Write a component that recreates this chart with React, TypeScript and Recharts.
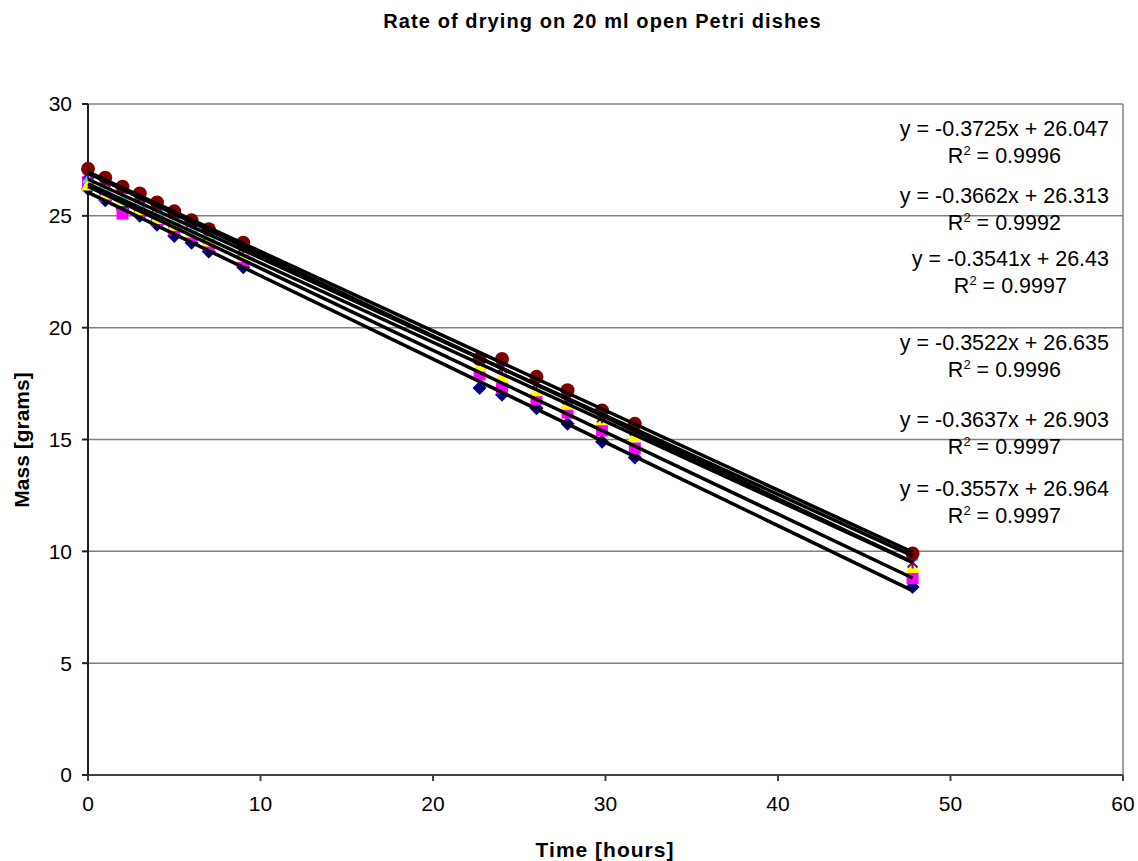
import { ScatterChart, Scatter, XAxis, YAxis, CartesianGrid, ReferenceLine } from 'recharts';

const times = [0, 1, 2, 3, 4, 5, 6, 7, 9, 22.7, 24, 26, 27.8, 29.8, 31.7, 47.8];

const dish1 = [26.2, 25.7, 25.3, 25.0, 24.6, 24.1, 23.8, 23.4, 22.7, 17.3, 17.0, 16.4, 15.7, 14.9, 14.2, 8.4];
const dish2 = [26.5, 25.9, 25.1, 25.2, 24.8, 24.4, 24.1, 23.7, 23.0, 17.9, 17.3, 16.8, 16.2, 15.4, 14.6, 8.8];
const dish3 = [26.4, 26.0, 25.7, 25.3, 24.9, 24.6, 24.3, 23.9, 23.2, 18.3, 17.8, 17.2, 16.6, 15.9, 15.2, 9.3];
const dish4 = [26.7, 26.3, 25.9, 25.6, 25.2, 24.9, 24.5, 24.2, 23.5, 18.6, 18.2, 17.5, 16.9, 16.2, 15.5, 9.8];
const dish5 = [26.9, 26.5, 26.2, 25.8, 25.4, 25.1, 24.7, 24.4, 23.6, 18.6, 18.2, 17.5, 16.8, 16.0, 15.4, 9.5];
const dish6 = [27.1, 26.7, 26.3, 26.0, 25.6, 25.2, 24.8, 24.4, 23.8, 18.6, 18.6, 17.8, 17.2, 16.3, 15.7, 9.9];

const slopes = [-0.3725, -0.3662, -0.3541, -0.3522, -0.3637, -0.3557];
const intercepts = [26.047, 26.313, 26.43, 26.635, 26.903, 26.964];
const rSquared = ['0.9996', '0.9992', '0.9997', '0.9996', '0.9997', '0.9997'];

const xTicks = [0, 10, 20, 30, 40, 50, 60];
const yTicks = [0, 5, 10, 15, 20, 25, 30];

// pixel centres of the trendline equation lines
const labelCentres = [130, 197, 260, 344, 421, 490];

const FONT = '"Liberation Sans", Arial, sans-serif';

const toPoints = (ys: number[]) => times.map((t, i) => ({ x: t, y: ys[i] }));

const Diamond = ({ cx, cy }: any) => (
  <path d={`M${cx},${cy - 7}L${cx + 7},${cy}L${cx},${cy + 7}L${cx - 7},${cy}Z`} fill="#000080" />
);
const Square = ({ cx, cy }: any) => <rect x={cx - 6} y={cy - 6} width={12} height={12} fill="#FF00FF" />;
const Triangle = ({ cx, cy }: any) => (
  <path d={`M${cx},${cy - 7}L${cx + 7},${cy + 6}L${cx - 7},${cy + 6}Z`} fill="#FFFF00" />
);
const XMark = ({ cx, cy }: any) => (
  <path d={`M${cx - 5},${cy - 5}L${cx + 5},${cy + 5}M${cx + 5},${cy - 5}L${cx - 5},${cy + 5}`} stroke="#00FFFF" strokeWidth={2} />
);
const Star = ({ cx, cy }: any) => (
  <path
    d={`M${cx - 5},${cy - 5}L${cx + 5},${cy + 5}M${cx + 5},${cy - 5}L${cx - 5},${cy + 5}M${cx},${cy - 6}L${cx},${cy + 6}`}
    stroke="#800080"
    strokeWidth={2}
  />
);
const Circle = ({ cx, cy }: any) => <circle cx={cx} cy={cy} r={7} fill="#800000" />;

const series = [
  { name: 'dish1', data: dish1, shape: Diamond },
  { name: 'dish2', data: dish2, shape: Square },
  { name: 'dish3', data: dish3, shape: Triangle },
  { name: 'dish4', data: dish4, shape: XMark },
  { name: 'dish5', data: dish5, shape: Star },
  { name: 'dish6', data: dish6, shape: Circle },
];

const lastTime = times[times.length - 1];

export default function App() {
  return (
    <div style={{ position: 'relative', width: 1138, height: 861, background: '#fff', fontFamily: FONT }}>
      <style>{`body{margin:0}`}</style>
      <div
        style={{
          position: 'absolute',
          top: 10,
          left: 0,
          width: 1205,
          textAlign: 'center',
          fontWeight: 'bold',
          fontSize: 20,
          letterSpacing: 1.1,
        }}
      >
        Rate of drying on 20 ml open Petri dishes
      </div>
      <ScatterChart width={1138} height={861} margin={{ top: 104, right: 15, bottom: 46, left: 28 }}>
        <CartesianGrid vertical={false} stroke="#808080" strokeWidth={1.5} />
        <XAxis
          type="number"
          dataKey="x"
          domain={[0, 60]}
          ticks={xTicks}
          height={40}
          tickSize={6}
          tickMargin={15}
          stroke="#404040"
          strokeWidth={2}
          tick={{ fill: '#000', fontSize: 21, fontFamily: FONT }}
        />
        <YAxis
          type="number"
          dataKey="y"
          domain={[0, 30]}
          ticks={yTicks}
          width={60}
          tickSize={6}
          tickMargin={10}
          stroke="#202020"
          strokeWidth={2}
          tick={{ fill: '#000', fontSize: 21, fontFamily: FONT }}
        />
        <ReferenceLine x={60} stroke="#808080" strokeWidth={1.5} />
        {series.map((s) => (
          <Scatter key={s.name} data={toPoints(s.data)} shape={s.shape} isAnimationActive={false} />
        ))}
        {slopes.map((m, i) => (
          <Scatter
            key={'trend' + i}
            data={[
              { x: 0, y: intercepts[i] },
              { x: lastTime, y: intercepts[i] + m * lastTime },
            ]}
            line={{ stroke: '#000', strokeWidth: 3.5 }}
            shape={() => null}
            isAnimationActive={false}
          />
        ))}
      </ScatterChart>
      {slopes.map((m, i) => (
        <div
          key={'lbl' + i}
          style={{
            position: 'absolute',
            right: 29,
            top: labelCentres[i] - 14,
            textAlign: 'center',
            fontSize: 21.5,
            lineHeight: '27px',
            whiteSpace: 'nowrap',
          }}
        >
          <div>
            y = {m.toFixed(4)}x + {intercepts[i]}
          </div>
          <div>
            R<sup style={{ fontSize: 13, lineHeight: 0 }}>2</sup> = {rSquared[i]}
          </div>
        </div>
      ))}
      <div
        style={{
          position: 'absolute',
          left: 22,
          top: 440,
          transform: 'translate(-50%, -50%) rotate(-90deg)',
          fontWeight: 'bold',
          fontSize: 21,
          whiteSpace: 'nowrap',
        }}
      >
        Mass [grams]
      </div>
      <div
        style={{
          position: 'absolute',
          left: 605,
          top: 850,
          transform: 'translate(-50%, -50%)',
          fontWeight: 'bold',
          fontSize: 21,
          letterSpacing: 1,
          whiteSpace: 'nowrap',
        }}
      >
        Time [hours]
      </div>
    </div>
  );
}
